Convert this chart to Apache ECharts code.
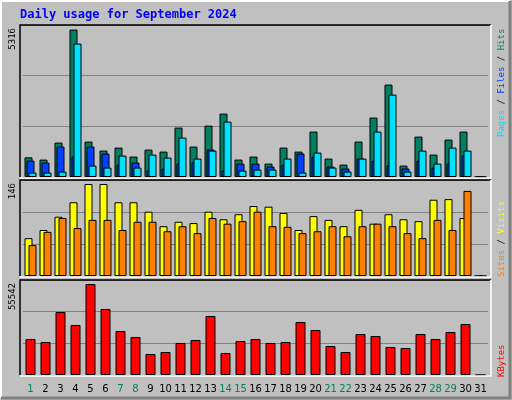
<!DOCTYPE html>
<html>
<head>
<meta charset="utf-8">
<script src="https://cdn.jsdelivr.net/npm/echarts@6/dist/echarts.min.js"></script>
<style>
html,body{margin:0;padding:0;background:#c0c0c0;}
#main{width:512px;height:400px;}
</style>
</head>
<body>
<div id="main"></div>
<script>
// 数据
var days = [];
for (var d = 1; d <= 31; d++) days.push(String(d));
var weekendDays = ['1','7','8','14','15','21','22','28','29'];
var hits   = [710,628,1241,5316,1277,952,1060,736,988,916,1782,1097,1854,2287,628,736,483,1060,916,1638,664,447,1277,2143,3333,411,1457,808,1349,1638,0];
var files  = [590,520,1097,736,1097,844,447,520,231,303,483,520,988,231,483,483,375,447,844,736,375,303,664,590,411,303,590,339,483,772,0];
var pages  = [160,160,195,4812,411,339,772,339,808,700,1421,664,952,1998,231,267,267,664,160,880,339,195,664,1638,2972,195,952,483,1060,952,0];
var visits = [60,73,94,117,146,146,117,117,102,79,86,84,102,90,98,111,110,100,73,95,89,79,105,83,98,90,87,121,122,92,0];
var sites  = [49,70,92,76,89,89,73,86,86,71,79,68,92,83,87,102,79,78,68,71,79,63,79,83,79,68,60,89,73,135,0];
var kbytes = [21974,20143,38454,30519,55542,40285,26857,23195,12818,14039,19532,21363,36013,13428,20753,21974,19532,20143,32350,27467,17701,14039,25026,23805,17091,16480,25026,21974,26247,31130,0];
var maxLabels = ['5316','146','55542'];

var myChart = echarts.init(document.getElementById('main'));

// 三个面板的位置
var panels = [
	{top: 25, bottom: 177, max: 5482},
	{top: 180, bottom: 276, max: 152.3},
	{top: 280, bottom: 375, max: 57983}
];
var grids = [], xAxes = [], yAxes = [], graphics = [];
panels.forEach(function(p, i) {
	grids.push({left: 23, right: 24, top: p.top, height: p.bottom - p.top});
	xAxes.push({
		type: 'category', gridIndex: i, data: days,
		axisLine: {show: false}, axisTick: {show: false},
		axisLabel: {
			show: i == 2, interval: 0, margin: 9, fontFamily: 'DejaVu Sans', fontSize: 10,
			color: function(v) { return weekendDays.indexOf(v) >= 0 ? '#008060' : '#000'; }
		}
	});
	yAxes.push({
		type: 'value', gridIndex: i, min: 0, max: p.max, interval: p.max / 3,
		axisLabel: {show: false}, axisLine: {show: false}, axisTick: {show: false},
		splitLine: {lineStyle: {color: '#808080', width: 1}}
	});
	// 面板凹框
	graphics.push({type: 'polyline', shape: {points: [[20, p.bottom], [20, p.top], [491, p.top]]}, style: {stroke: '#000', lineWidth: 1.5, fill: null}, z: 10});
	graphics.push({type: 'polyline', shape: {points: [[491, p.top], [491, p.bottom + 1], [20, p.bottom + 1]]}, style: {stroke: '#fff', lineWidth: 1.5, fill: null}, z: 10});
	graphics.push({type: 'text', x: 8, y: p.top + 3, rotation: Math.PI / 2, style: {text: maxLabels[i], align: 'right', verticalAlign: 'top', fill: '#000', font: '9px DejaVu Sans Mono'}});
});

// 外框
graphics.push({type: 'polyline', shape: {points: [[1, 398], [1, 1], [510, 1]]}, style: {stroke: '#fff', lineWidth: 2, fill: null}});
graphics.push({type: 'polyline', shape: {points: [[510, 1], [510, 398], [1, 398]]}, style: {stroke: '#808080', lineWidth: 3, fill: null}});
graphics.push({type: 'text', x: 20, y: 9, style: {text: 'Daily usage for September 2024', fill: '#0000ff', font: 'bold 12px DejaVu Sans Mono'}});
// 右侧图例
function sideLabel(y, parts) {
	graphics.push({type: 'text', x: 497, y: y, rotation: Math.PI / 2, style: {
		text: parts.map(function(p, k) { return '{s' + k + '|' + p[0] + '}'; }).join(''),
		align: 'left', verticalAlign: 'top', font: '9px DejaVu Sans Mono',
		rich: parts.reduce(function(o, p, k) { o['s' + k] = {fill: p[1], font: '9px DejaVu Sans Mono'}; return o; }, {})
	}});
}
sideLabel(137, [['Pages', '#00e0ff'], [' / ', '#000'], ['Files', '#0040ff'], [' / ', '#000'], ['Hits', '#008060']]);
sideLabel(277, [['Sites', '#ff8000'], [' / ', '#000'], ['Visits', '#ffff00']]);
sideLabel(377, [['KBytes', '#ff0000']]);

function bar(name, data, idx, color, width, gap) {
	return {
		name: name, type: 'bar', xAxisIndex: idx, yAxisIndex: idx, data: data,
		barWidth: width, barGap: gap, animation: false,
		itemStyle: {color: color, borderColor: '#000', borderWidth: 1}
	};
}

var option = {
	backgroundColor: '#c0c0c0',
	animation: false,
	grid: grids, xAxis: xAxes, yAxis: yAxes,
	graphic: graphics,
	series: [
		bar('Hits', hits, 0, '#008060', 8, '-75%'),
		bar('Files', files, 0, '#0040ff', 8, '-75%'),
		bar('Pages', pages, 0, '#00e0ff', 8, '-75%'),
		bar('Visits', visits, 1, '#ffff00', 8, '-50%'),
		bar('Sites', sites, 1, '#ff8000', 8, '-50%'),
		bar('KBytes', kbytes, 2, '#ff0000', 10, '0%')
	]
};
myChart.setOption(option);
</script>
</body>
</html>
